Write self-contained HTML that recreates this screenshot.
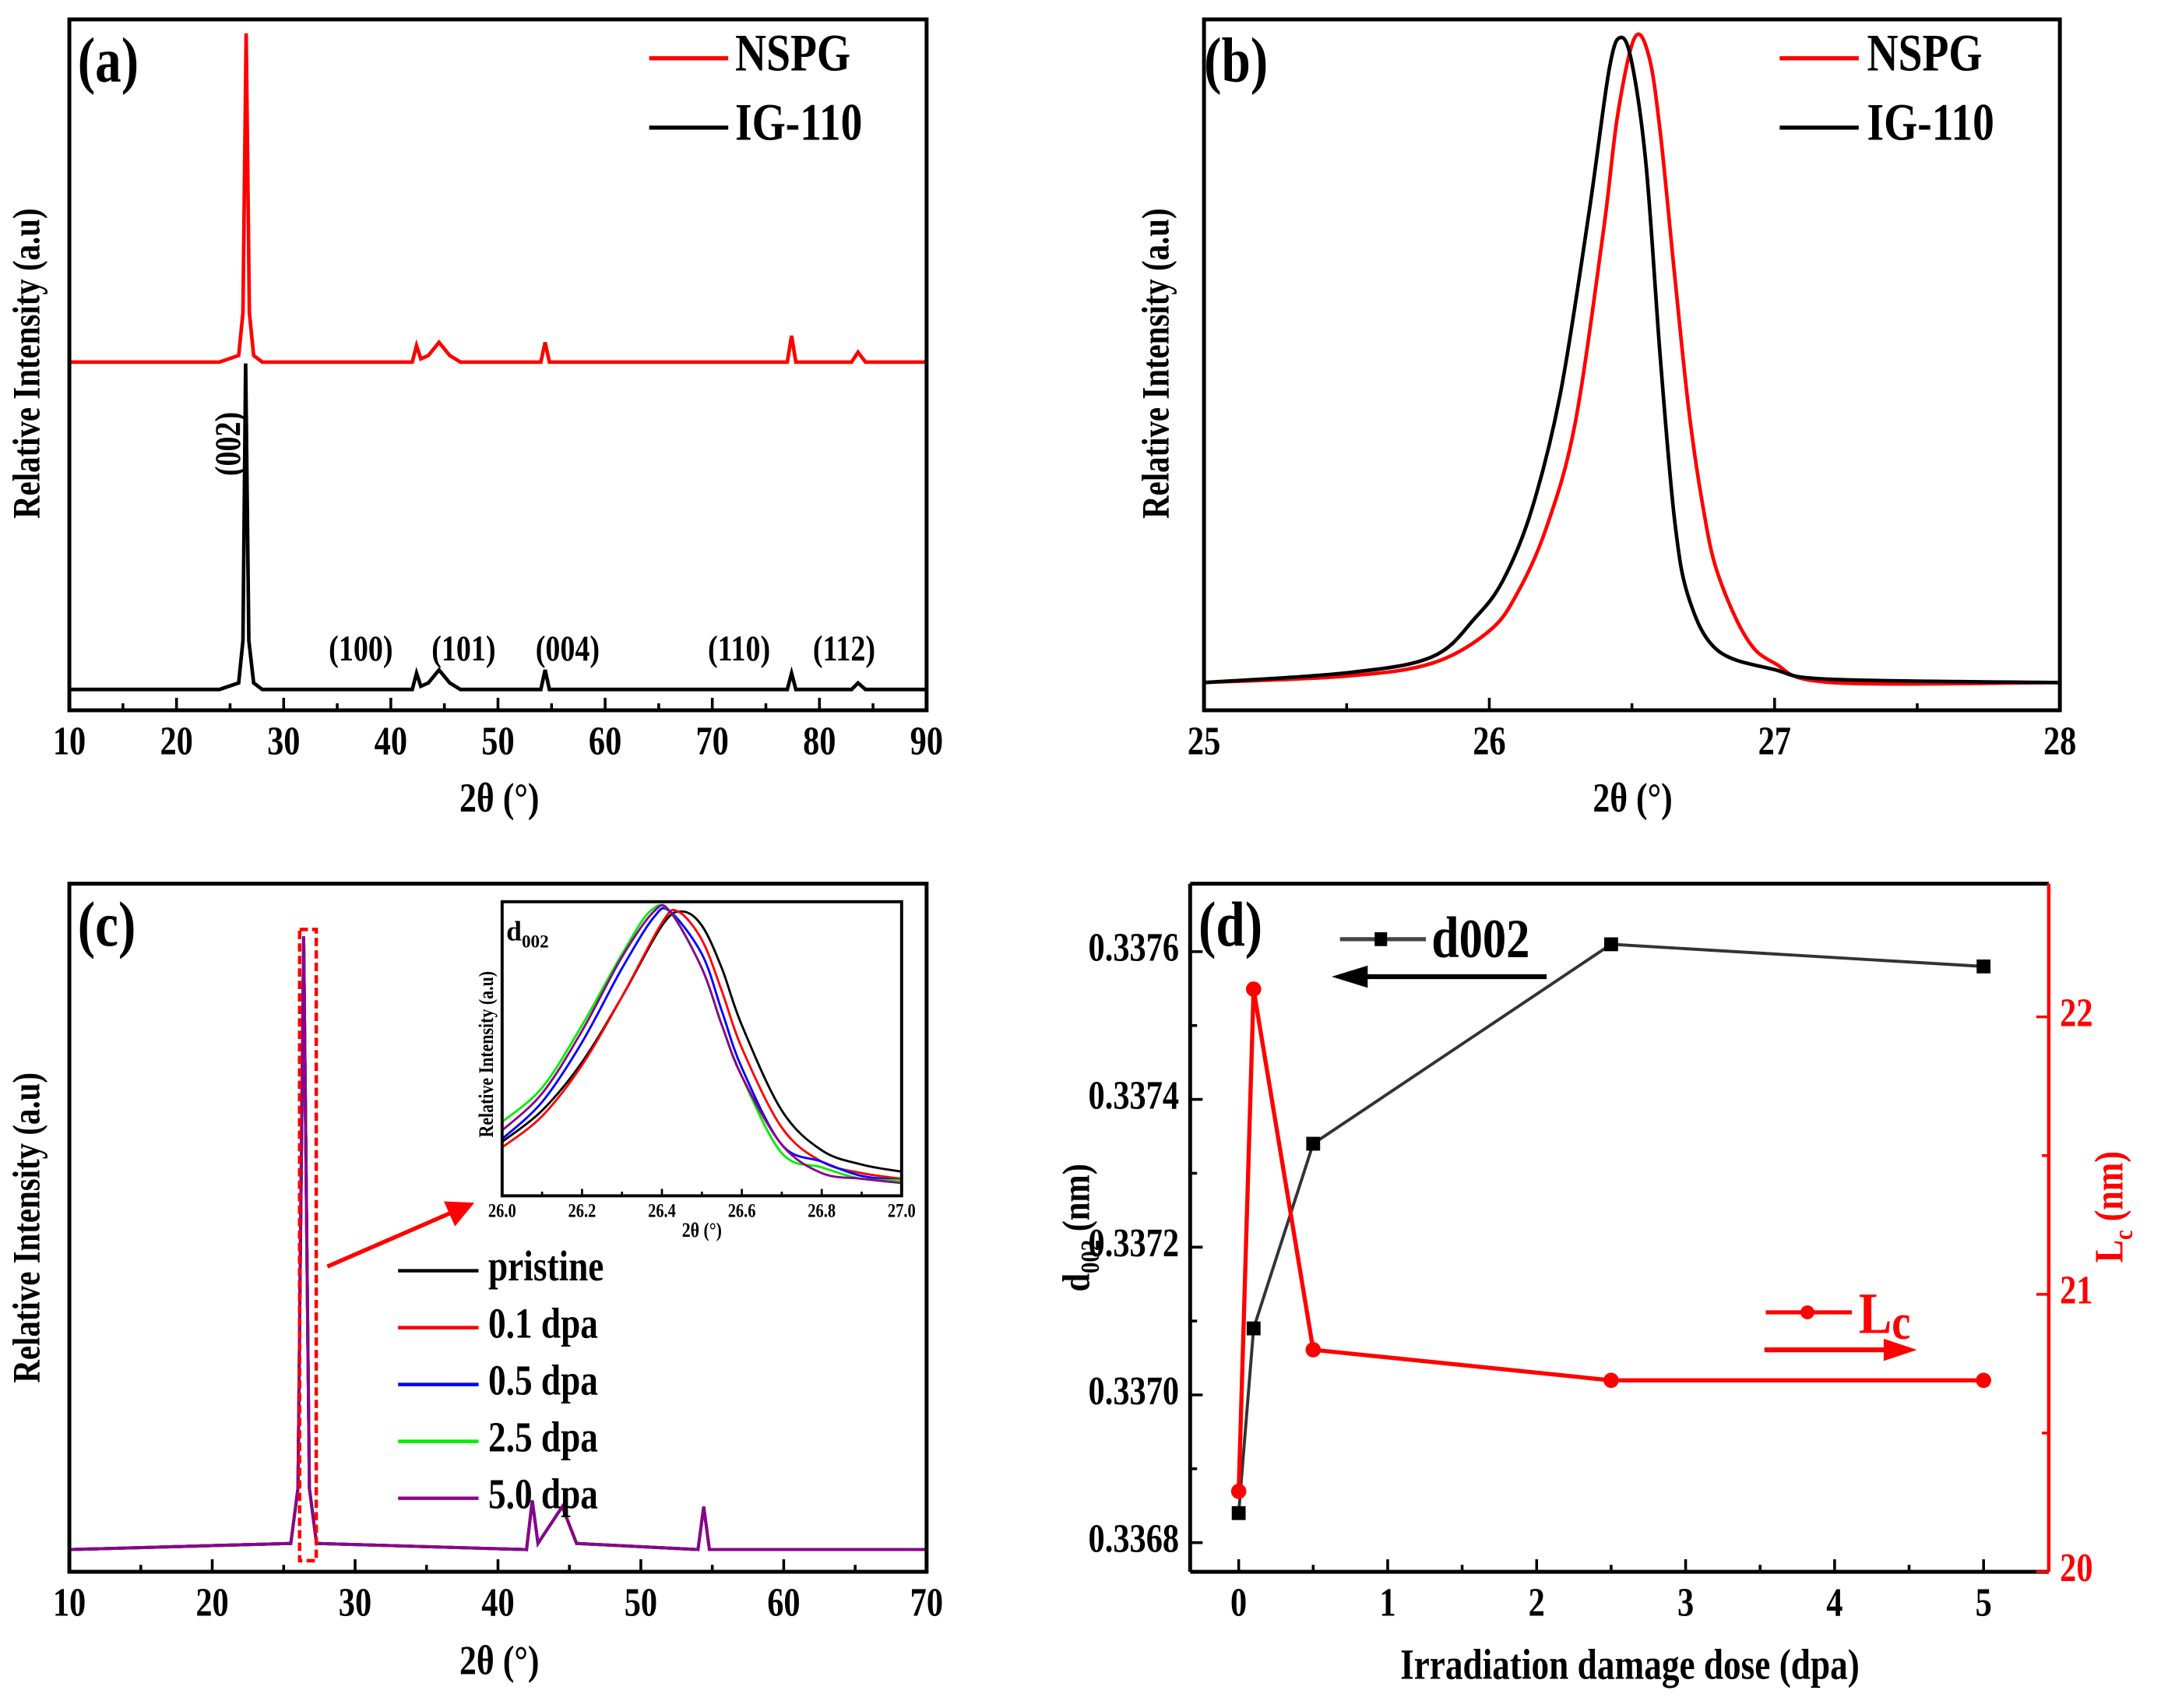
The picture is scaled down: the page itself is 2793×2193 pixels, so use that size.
<!DOCTYPE html>
<html><head><meta charset="utf-8">
<style>
html,body{margin:0;padding:0;background:#fff;}
svg{display:block;}
text{font-family:"Liberation Serif",serif;font-weight:bold;fill:#000;}
</style></head>
<body>
<svg id="fig" width="2793" height="2193" viewBox="0 0 1568 1231.2" preserveAspectRatio="none" xmlns="http://www.w3.org/2000/svg"></svg>
<script>
// ---------- DATA ----------
const aNSPG = [[10,0],[24,0],[25.8,0.02],[26.2,0.15],[26.5,1],[26.8,0.15],[27.2,0.02],[28,0],[42,0],[42.4,0.05],[42.8,0.01],[43.5,0.02],[44.5,0.06],[45.5,0.02],[46.5,0],[54,0],[54.4,0.06],[54.8,0],[77,0],[77.4,0.08],[77.8,0],[83,0],[83.6,0.03],[84.3,0],[90,0]];
const aIG110 = [[10,0],[24,0],[25.8,0.02],[26.2,0.15],[26.45,1],[26.75,0.15],[27.2,0.02],[28,0],[42,0],[42.4,0.05],[42.8,0.01],[43.5,0.02],[44.5,0.06],[45.5,0.02],[46.5,0],[54,0],[54.4,0.06],[54.8,0],[77,0],[77.4,0.05],[77.8,0],[83,0],[83.6,0.02],[84.3,0],[90,0]];
const aTicks = [10,20,30,40,50,60,70,80,90];
const aPeakLabels = ["(100)","(101)","(004)","(110)","(112)"];
const aPeakPos = [37.2,46.8,56.5,72.5,82.3];
const bNSPG = [[25,0],[25.5,0.01],[25.8,0.03],[26.0,0.08],[26.1,0.14],[26.2,0.24],[26.3,0.4],[26.4,0.7],[26.45,0.88],[26.51,1],[26.56,0.97],[26.6,0.85],[26.65,0.63],[26.7,0.42],[26.75,0.27],[26.8,0.17],[26.9,0.07],[27.0,0.03],[27.2,0.0],[28,0]];
const bIG110 = [[25,0],[25.5,0.015],[25.8,0.04],[25.95,0.1],[26.05,0.16],[26.15,0.27],[26.25,0.45],[26.35,0.73],[26.42,0.95],[26.46,1],[26.5,0.96],[26.55,0.8],[26.6,0.5],[26.65,0.25],[26.7,0.13],[26.8,0.05],[27,0.02],[27.2,0.005],[28,0]];
const bTicks = [25,26,27,28];
const cSeriesNames = ["pristine","0.1 dpa","0.5 dpa","2.5 dpa","5.0 dpa"];
const cColors = ["#000","#ff0000","#0000ff","#00ee00","#8b008b"];
const cBase = [[10,0],[25.5,0.01],[26,0.1],[26.4,1],[26.8,0.1],[27.3,0.01],[42,0],[42.4,0.08],[42.8,0.01],[44.5,0.07],[45.5,0.01],[54,0],[54.4,0.07],[54.8,0],[70,0]];
const cTicks = [10,20,30,40,50,60,70];
const insetPristine = [[26.0,0.19],[26.1,0.3],[26.2,0.47],[26.3,0.7],[26.4,0.95],[26.45,1],[26.5,0.95],[26.55,0.8],[26.6,0.6],[26.7,0.3],[26.8,0.16],[26.9,0.11],[27.0,0.085]];
const insetLc01 = [[26.0,0.17],[26.1,0.28],[26.2,0.46],[26.3,0.7],[26.4,0.96],[26.44,1],[26.5,0.9],[26.55,0.72],[26.6,0.52],[26.7,0.24],[26.8,0.12],[26.9,0.08],[27.0,0.06]];
const inset05 = [[26.0,0.2],[26.1,0.33],[26.2,0.54],[26.3,0.8],[26.38,0.98],[26.42,1],[26.5,0.85],[26.55,0.65],[26.6,0.45],[26.7,0.18],[26.8,0.12],[26.9,0.07],[27.0,0.055]];
const inset25 = [[26.0,0.26],[26.1,0.38],[26.2,0.6],[26.3,0.85],[26.37,1],[26.42,1],[26.5,0.8],[26.55,0.6],[26.6,0.42],[26.7,0.15],[26.8,0.1],[26.9,0.06],[27.0,0.055]];
const inset50 = [[26.0,0.23],[26.1,0.36],[26.2,0.58],[26.3,0.84],[26.38,1],[26.42,1],[26.5,0.8],[26.55,0.6],[26.6,0.42],[26.7,0.18],[26.8,0.08],[26.9,0.06],[27.0,0.045]];
const insetSeries = [insetPristine,insetLc01,inset05,inset25,inset50];
const insetTicks = ["26.0","26.2","26.4","26.6","26.8","27.0"];
const dDose = [0,0.1,0.5,2.5,5];
const dD002 = [0.33684,0.33709,0.33734,0.33761,0.33758];
const dLc = [20.29,22.10,20.80,20.69,20.69];
const dXTicks = [0,1,2,3,4,5];
const dLeftTicks = ["0.3368","0.3370","0.3372","0.3374","0.3376"];
const dRightTicks = [20,21,22];

// ---------- HELPERS ----------
const NS="http://www.w3.org/2000/svg";
const svg=document.getElementById('fig');
const SQ=0.82;
function el(tag,attrs,parent){const e=document.createElementNS(NS,tag);for(const k in attrs)e.setAttribute(k,attrs[k]);(parent||svg).appendChild(e);return e;}
function squeeze(t){try{const w=t.getComputedTextLength();if(w>0){t.setAttribute('textLength',(w*SQ).toFixed(1));t.setAttribute('lengthAdjust','spacingAndGlyphs');}}catch(e){}}
function txt(s,x,y,size,attrs,parent){const t=el('text',Object.assign({x:x,y:y,'font-size':size},attrs||{}),parent);t.textContent=s;squeeze(t);return t;}
function lin(d0,d1,r0,r1){return v=>r0+(v-d0)*(r1-r0)/(d1-d0);}
function pathOf(pts,sx,sy){return pts.map((p,i)=>(i?'L':'M')+sx(p[0]).toFixed(2)+','+sy(p[1]).toFixed(2)).join(' ');}
function smoothOf(pts,sx,sy){const P=pts.map(p=>[sx(p[0]),sy(p[1])]);let d='M'+P[0][0].toFixed(2)+','+P[0][1].toFixed(2);
for(let i=0;i<P.length-1;i++){const p0=P[i-1]||P[i],p1=P[i],p2=P[i+1],p3=P[i+2]||P[i+1];
const c1=[p1[0]+(p2[0]-p0[0])/6,p1[1]+(p2[1]-p0[1])/6],c2=[p2[0]-(p3[0]-p1[0])/6,p2[1]-(p3[1]-p1[1])/6];
d+=' C'+c1[0].toFixed(2)+','+c1[1].toFixed(2)+' '+c2[0].toFixed(2)+','+c2[1].toFixed(2)+' '+p2[0].toFixed(2)+','+p2[1].toFixed(2);}return d;}
const TK=29, TT=30, YT=28;

// ---------- PANEL A ----------
(function(){
const g=el('g',{});


const L=50,R=668,T=14,B=512;
const sx=lin(10,90,L,R);
const syR=lin(0,1,261,24), syB=lin(0,1,497,262);
const pr=el('path',{d:pathOf(aNSPG,sx,syR),fill:'none',stroke:'#ff0000','stroke-width':2.6},g);


const pb=el('path',{d:pathOf(aIG110,sx,syB),fill:'none',stroke:'#000','stroke-width':2.6},g);


const box=el('rect',{x:L,y:T,width:R-L,height:B-T,fill:'none',stroke:'#000','stroke-width':2.8},g);


for(let v=10;v<=90;v+=5){el('line',{x1:sx(v),x2:sx(v),y1:B,y2:B-(v%10?5:9),stroke:'#000','stroke-width':2},g);}
aTicks.forEach(v=>{const t=txt(String(v),sx(v),537,TK,{'text-anchor':'middle','dominant-baseline':'middle'},g);

});
const xt=txt('2θ (°)',360,578,TT,{'text-anchor':'middle','dominant-baseline':'middle','font-weight':'normal'},g);


const yt=txt('Relative Intensity (a.u)',0,0,YT,{'text-anchor':'middle','dominant-baseline':'middle',transform:'translate(22,262) rotate(-90)'},g);


const pl=txt('(a)',56,48,46,{'dominant-baseline':'middle'},g);


const ann=txt('(002)',0,0,26,{'text-anchor':'middle','dominant-baseline':'middle',transform:'translate(167,320) rotate(-90)'},g);


aPeakLabels.forEach((s,i)=>{const t=txt(s,sx(aPeakPos[i]),470,26,{'text-anchor':'middle','dominant-baseline':'middle'},g);

});
el('line',{x1:468,x2:525,y1:42,y2:42,stroke:'#ff0000','stroke-width':3},g);
const l1=txt('NSPG',530,42,38,{'dominant-baseline':'middle'},g);


el('line',{x1:468,x2:525,y1:92,y2:92,stroke:'#000','stroke-width':3},g);
const l2=txt('IG-110',530,92,38,{'dominant-baseline':'middle'},g);


})();

// ---------- PANEL B ----------
(function(){
const g=el('g',{});


const L=868,R=1485,T=14,B=512;
const sx=lin(25,28,L,R), sy=lin(0,1,492,27);
const pr=el('path',{d:smoothOf(bNSPG,sx,sy),fill:'none',stroke:'#ff0000','stroke-width':2.6},g);


const pb=el('path',{d:smoothOf(bIG110,sx,sy),fill:'none',stroke:'#000','stroke-width':2.6},g);


const box=el('rect',{x:L,y:T,width:R-L,height:B-T,fill:'none',stroke:'#000','stroke-width':2.8},g);


for(let v=25;v<=28.001;v+=0.5){el('line',{x1:sx(v),x2:sx(v),y1:B,y2:B-(Math.abs(v-Math.round(v))>0.1?5:9),stroke:'#000','stroke-width':2},g);}
bTicks.forEach(v=>{const t=txt(String(v),sx(v),537,TK,{'text-anchor':'middle','dominant-baseline':'middle'},g);

});
const xt=txt('2θ (°)',1177,578,TT,{'text-anchor':'middle','dominant-baseline':'middle','font-weight':'normal'},g);


const yt=txt('Relative Intensity (a.u)',0,0,YT,{'text-anchor':'middle','dominant-baseline':'middle',transform:'translate(836,262) rotate(-90)'},g);


const pl=txt('(b)',868,48,46,{'dominant-baseline':'middle'},g);


el('line',{x1:1283,x2:1340,y1:42,y2:42,stroke:'#ff0000','stroke-width':3},g);
const l1=txt('NSPG',1346,42,38,{'dominant-baseline':'middle'},g);


el('line',{x1:1283,x2:1340,y1:92,y2:92,stroke:'#000','stroke-width':3},g);
const l2=txt('IG-110',1346,92,38,{'dominant-baseline':'middle'},g);


})();

// ---------- PANEL C ----------
(function(){
const g=el('g',{});


const L=50,R=668,T=637,B=1133;
const sx=lin(10,70,L,R), sy=lin(0,1,1117,675);
cSeriesNames.forEach((n,i)=>{const p=el('path',{d:pathOf(cBase,sx,sy),fill:'none',stroke:cColors[i],'stroke-width':2.2},g);

});
const box=el('rect',{x:L,y:T,width:R-L,height:B-T,fill:'none',stroke:'#000','stroke-width':2.8},g);


for(let v=10;v<=70;v+=5){el('line',{x1:sx(v),x2:sx(v),y1:B,y2:B-(v%10?5:9),stroke:'#000','stroke-width':2},g);}
cTicks.forEach(v=>{const t=txt(String(v),sx(v),1158,TK,{'text-anchor':'middle','dominant-baseline':'middle'},g);

});
const xt=txt('2θ (°)',360,1200,TT,{'text-anchor':'middle','dominant-baseline':'middle','font-weight':'normal'},g);


const yt=txt('Relative Intensity (a.u)',0,0,YT,{'text-anchor':'middle','dominant-baseline':'middle',transform:'translate(22,885) rotate(-90)'},g);


const pl=txt('(c)',56,671,46,{'dominant-baseline':'middle'},g);


const zr=el('rect',{x:216,y:670,width:12,height:455,fill:'none',stroke:'#ff0000','stroke-width':2.5,'stroke-dasharray':'6,3'},g);


el('line',{x1:236,y1:913,x2:328,y2:873,stroke:'#ff0000','stroke-width':3},g);
const ah=el('polygon',{points:'342,867 320,866 328,884',fill:'#ff0000'},g);


cSeriesNames.forEach((n,i)=>{const y=916+i*41;
el('line',{x1:287,x2:345,y1:y,y2:y,stroke:cColors[i],'stroke-width':2.5},g);
const t=txt(n,352,y,31,{'dominant-baseline':'middle'},g);

});
const ig=el('g',{},g);


const IL=362,IR=650,IT=650,IB=862;
const isx=lin(26,27,IL,IR), isy=lin(0,1,IB,657);
el('rect',{x:IL,y:IT,width:IR-IL,height:IB-IT,fill:'#fff',stroke:'none'},ig);
insetSeries.forEach((s,i)=>{const p=el('path',{d:smoothOf(s,isx,isy),fill:'none',stroke:cColors[i],'stroke-width':1.6},ig);

});
el('rect',{x:IL,y:IT,width:IR-IL,height:IB-IT,fill:'none',stroke:'#000','stroke-width':2.2},ig);
for(let k=0;k<=10;k++){const x=isx(26+k*0.1);el('line',{x1:x,x2:x,y1:IB,y2:IB-(k%2?3:5),stroke:'#000','stroke-width':1.5},ig);}
insetTicks.forEach(s=>{const t=txt(s,isx(parseFloat(s)),874,14,{'text-anchor':'middle','dominant-baseline':'middle'},ig);

});
const ixt=txt('2θ (°)',506,888,15,{'text-anchor':'middle','dominant-baseline':'middle','font-weight':'normal'},ig);


const iyt=txt('Relative Intensity (a.u)',0,0,15,{'text-anchor':'middle','dominant-baseline':'middle',transform:'translate(352,760) rotate(-90)'},ig);


const il=el('text',{x:365,y:678,'font-size':20},ig);


il.innerHTML='d<tspan font-size="13" dy="5">002</tspan>';
})();

// ---------- PANEL D ----------
(function(){
const g=el('g',{});


const L=858,R=1477,T=637,B=1133;
const sx=lin(0,5,893,1430);
const syL=lin(0.3368,0.3376,1112,686);
const syR=lin(20,22,1133,733);
const pd=el('path',{d:pathOf(dDose.map((x,i)=>[x,dD002[i]]),sx,syL),fill:'none',stroke:'#333','stroke-width':2.2},g);


dDose.forEach((x,i)=>{const m=el('rect',{x:sx(x)-5,y:syL(dD002[i])-5,width:10,height:10,fill:'#000'},g);

});
const pc=el('path',{d:pathOf(dDose.map((x,i)=>[x,dLc[i]]),sx,syR),fill:'none',stroke:'#ff0000','stroke-width':3},g);


dDose.forEach((x,i)=>{const m=el('circle',{cx:sx(x),cy:syR(dLc[i]),r:5.5,fill:'#ff0000'},g);

});
el('line',{x1:L,y1:T,x2:R,y2:T,stroke:'#000','stroke-width':2.8},g);
el('line',{x1:L,y1:B,x2:R,y2:B,stroke:'#000','stroke-width':2.8},g);
el('line',{x1:L,y1:T,x2:L,y2:B,stroke:'#000','stroke-width':2.8},g);
const ra=el('line',{x1:R,y1:T,x2:R,y2:B,stroke:'#ff0000','stroke-width':2.5},g);


for(let v=0;v<=5.001;v+=0.5){el('line',{x1:sx(v),x2:sx(v),y1:B,y2:B-(Math.abs(v-Math.round(v))>0.1?5:9),stroke:'#000','stroke-width':2},g);}
dXTicks.forEach(v=>{const t=txt(String(v),sx(v),1158,TK,{'text-anchor':'middle','dominant-baseline':'middle'},g);

});
for(let k=0;k<=8;k++){const y=syL(0.3368+k*0.0001);el('line',{x1:L,x2:L+(k%2?5:9),y1:y,y2:y,stroke:'#000','stroke-width':2},g);}
dLeftTicks.forEach(s=>{const t=txt(s,L-8,syL(parseFloat(s)),TK,{'text-anchor':'end','dominant-baseline':'middle'},g);

});
for(let k=0;k<=4;k++){const y=syR(20+k*0.5);el('line',{x1:R,x2:R-(k%2?5:9),y1:y,y2:y,stroke:'#ff0000','stroke-width':2},g);}
dRightTicks.forEach(v=>{const t=txt(String(v),R+8,syR(v),TK,{'dominant-baseline':'middle',style:'fill:#ff0000'},g);

});
const xt=txt('Irradiation damage dose (dpa)',1175,1203,31,{'text-anchor':'middle','dominant-baseline':'middle'},g);


const yl=el('text',{'font-size':28,'text-anchor':'middle',transform:'translate(785,885) rotate(-90) scale(0.85,1)'},g);


yl.innerHTML='d<tspan font-size="19" dy="7">002</tspan><tspan dy="-7"> (nm)</tspan>';
const yr=el('text',{'font-size':29,'text-anchor':'middle',style:'fill:#ff0000',transform:'translate(1530,870) rotate(-90) scale(0.85,1)'},g);


yr.innerHTML='L<tspan font-size="19" dy="7">c</tspan><tspan dy="-7"> (nm)</tspan>';
const pl=txt('(d)',864,671,46,{'dominant-baseline':'middle'},g);


el('line',{x1:966,x2:1028,y1:677,y2:677,stroke:'#444','stroke-width':3},g);
el('rect',{x:991,y:672,width:9,height:10,fill:'#000'},g);
const l1=el('text',{x:1032,y:690,'font-size':42,transform:'translate(1032,690) scale(0.85,1) translate(-1032,-690)'},g);


l1.innerHTML='d<tspan font-size="40">002</tspan>';
el('line',{x1:1115,x2:980,y1:704,y2:704,stroke:'#000','stroke-width':3.5},g);
const a1=el('polygon',{points:'960,704 986,696 986,712',fill:'#000'},g);


el('line',{x1:1273,x2:1335,y1:946,y2:946,stroke:'#ff0000','stroke-width':3},g);
el('circle',{cx:1303,cy:946,r:5,fill:'#ff0000'},g);
const l2=el('text',{x:1340,y:961,'font-size':42,style:'fill:#ff0000',transform:'translate(1340,961) scale(0.85,1) translate(-1340,-961)'},g);


l2.innerHTML='L<tspan font-size="36" dy="4">c</tspan>';
el('line',{x1:1272,x2:1362,y1:973,y2:973,stroke:'#ff0000','stroke-width':3.5},g);
const a2=el('polygon',{points:'1382,973 1358,965 1358,981',fill:'#ff0000'},g);


})();
</script>
</body></html>
